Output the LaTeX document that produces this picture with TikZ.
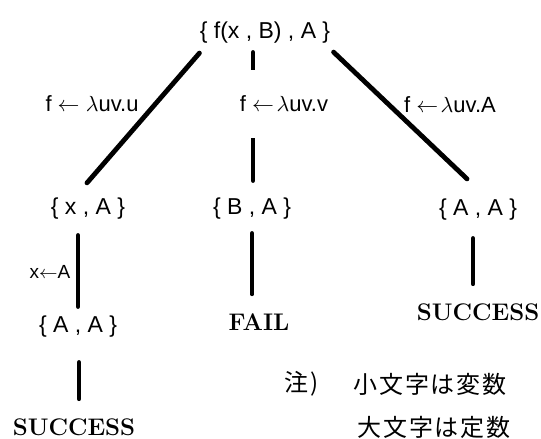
\documentclass[tikz,border=0pt]{standalone}
\usepackage{fontspec}
\usetikzlibrary{calc}
\newfontfamily\lblfont{Liberation Sans}
\newfontfamily\jpfont{Noto Sans CJK JP}[LetterSpace=8]
\tikzset{
  term/.style={font=\lblfont\fontsize{11.5}{13}\selectfont, inner sep=0pt},
  subst/.style={font=\lblfont\fontsize{11}{13}\selectfont, inner sep=0pt},
  result/.style={font=\bfseries\fontsize{12}{14}\selectfont, inner sep=0pt},
  note/.style={font=\jpfont\fontsize{12}{14}\selectfont, inner sep=0pt},
  edge/.style={line width=2pt, line cap=round},
  diag/.style={edge, line width=2.4pt}
}
\begin{document}
\begin{tikzpicture}[x=0.5pt,y=-0.5pt]
    \useasboundingbox (0,0) rectangle (541,439);
    % terms
    \node[term] (top) at (265,33) {\{ f(x , B) , A \}};
    \node[term] (xa) at (88,209) {\{ x , A \}};
    \node[term] (ba) at (252,209) {\{ B , A \}};
    \node[term] (aar) at (478,210) {\{ A , A \}};
    \node[term] (aal) at (78,327) {\{ A , A \}};
    \node[result] (sl) at (74,427) {SUCCESS};
    \node[result] (fail) at (259,322) {FAIL};
    \node[result] (sr) at (478,312) {SUCCESS};
    % branches
    \draw[diag] ($(top.south west)+(0,9)$) -- ($(xa.north)+(-1,-15)$);
    \draw[diag] ($(top.south east)+(3,8)$) -- ($(aar.north)+(-11,-20)$);
    \draw[edge] ($(top.south)+(-12,8)$) -- ($(ba.north)+(1,-17)$);
    \draw[edge] ($(xa.south)+(-10,15)$) -- ($(aal.north)+(0,-9)$);
    \draw[edge] ($(aal.south)+(1,24)$) -- ($(sl.north)+(5,-19)$);
    \draw[edge] ($(ba.south)+(0,13)$) -- ($(fail.north)+(-7,-19)$);
    \draw[edge] ($(aar.south)+(-5,17)$) -- ($(sr.north)+(-5,-19)$);
    % substitutions
    \node[subst] (lu) at (92,104) {f $\leftarrow$ $\lambda$uv.u};
    \node[subst, fill=white, inner ysep=13pt] (lv) at (284,104) {f $\leftarrow\!\lambda$uv.v};
    \node[subst] (la) at (450,105) {f $\leftarrow\!\lambda$uv.A};
    \node[subst, font=\lblfont\fontsize{9.5}{11}\selectfont] (lx) at (50,272) {x$\leftarrow$A};
    % note
    \node[note] (nt) at (302,384) {注)};
    \node[note] (n1) at (430,384) {小文字は変数};
    \node[note] (n2) at (434,427) {大文字は定数};
\end{tikzpicture}
\end{document}
